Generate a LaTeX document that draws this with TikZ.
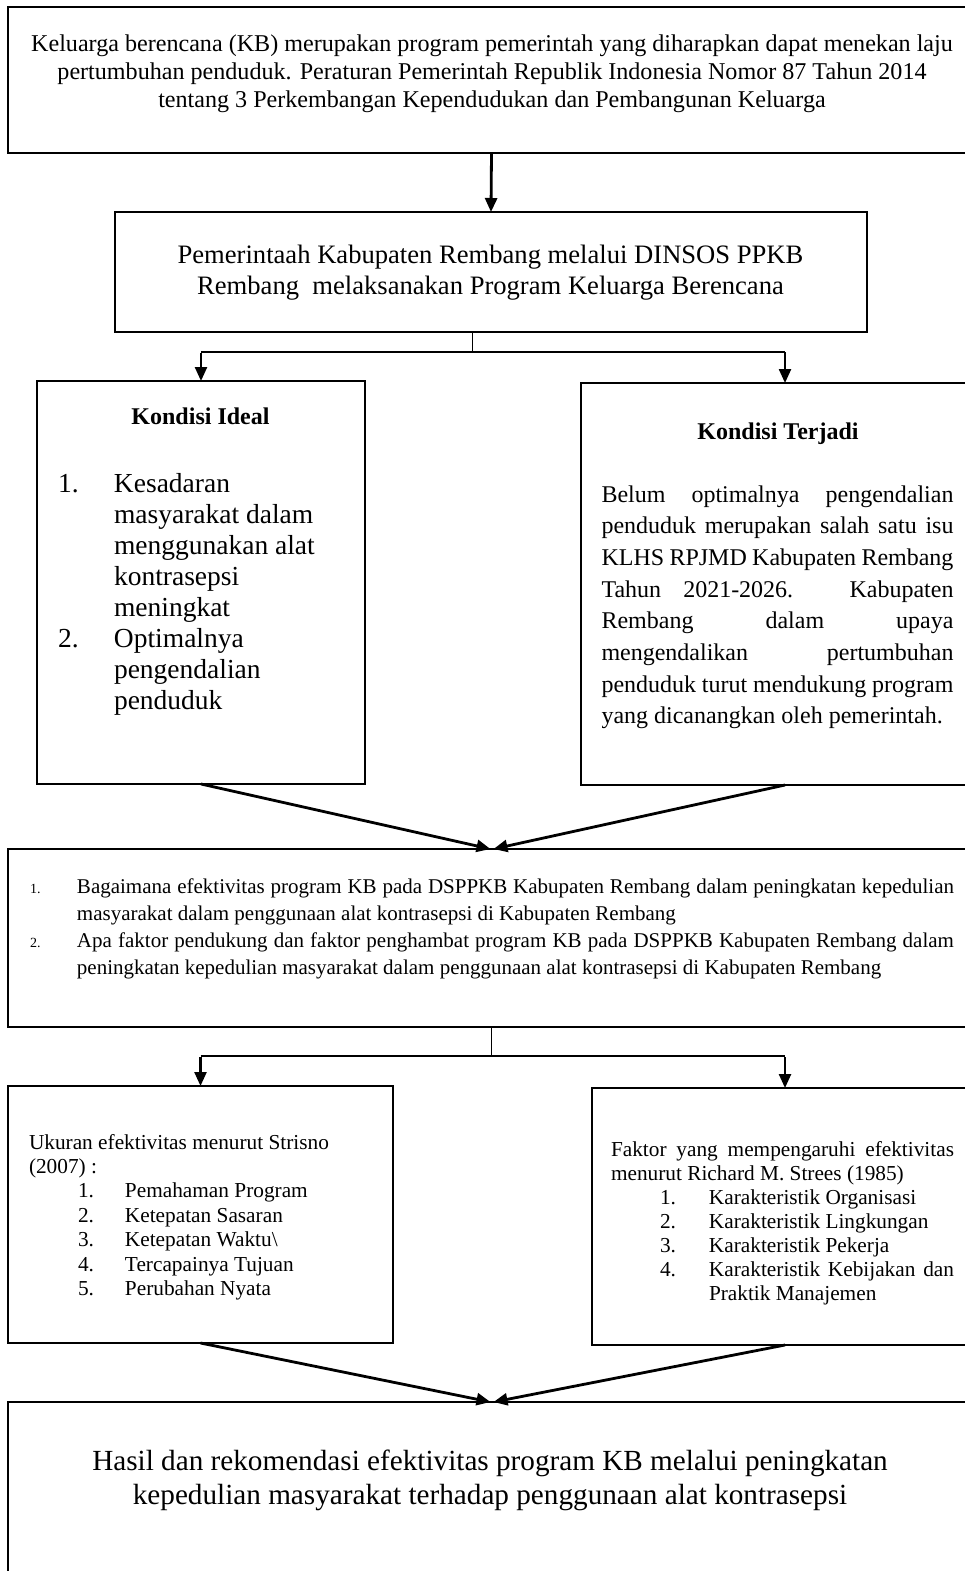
\documentclass[tikz,border=0pt]{standalone}
\usepackage{fontspec}
\setmainfont{Liberation Serif}
\usetikzlibrary{arrows.meta}
\newcommand\fsz[2]{\fontsize{#1}{#2}\selectfont}
\begin{document}
\begin{tikzpicture}[x=1pt,y=-1pt,
  boxn/.style={draw=black, line width=1.6pt, inner sep=0pt, outer sep=0pt, anchor=north west},
  tx/.style={inner sep=0pt, outer sep=0pt},
  conn/.style={line width=2.4pt, -{Triangle[length=14pt,width=12pt]}},
  thinline/.style={line width=1.4pt},
  barline/.style={line width=2.4pt}
]
\useasboundingbox (0,0) rectangle (965,1571);
\clip (0,0) rectangle (965,1571);
\fill[white] (0,0) rectangle (965,1571);

% boxes
\node[boxn, minimum width=967pt, minimum height=146pt] (b1) at (8,7) {};
\node[boxn, minimum width=752pt, minimum height=120pt] (b2) at (115,212) {};
\node[boxn, minimum width=328pt, minimum height=403pt] (l1) at (37,381) {};
\node[boxn, minimum width=408pt, minimum height=402pt] (r1) at (581,383) {};
\node[boxn, minimum width=967pt, minimum height=178pt] (b3) at (8,849) {};
\node[boxn, minimum width=385pt, minimum height=257pt] (l2) at (8,1086) {};
\node[boxn, minimum width=386pt, minimum height=257pt] (r2) at (592,1088) {};
\node[boxn, minimum width=967pt, minimum height=200pt] (b4) at (8,1402) {};

% texts
\node[tx, anchor=base] (t1) at (492,52) {\fsz{24.1}{27.6}\begin{tabular}[t]{@{}c@{}}
Keluarga berencana (KB) merupakan program pemerintah yang diharapkan dapat menekan laju\\
pertumbuhan penduduk. Peraturan Pemerintah Republik Indonesia Nomor 87 Tahun 2014\\
tentang 3 Perkembangan Kependudukan dan Pembangunan Keluarga\end{tabular}};

\node[tx, anchor=base] (t2) at (490.5,263) {\fsz{26.6}{31}\begin{tabular}[t]{@{}c@{}}
Pemerintaah Kabupaten Rembang melalui DINSOS PPKB\\
Rembang\ \ melaksanakan Program Keluarga Berencana\end{tabular}};

\node[tx, anchor=base] (tl1h) at (200.5,424) {\fsz{24}{28}\bfseries Kondisi Ideal};
\node[tx, anchor=base west] (tl1) at (58,492) {\fsz{27.5}{31}\begin{tabular}[t]{@{}p{56pt}@{}l@{}}
1. & Kesadaran\\
 & masyarakat dalam\\
 & menggunakan alat\\
 & kontrasepsi\\
 & meningkat\\
2. & Optimalnya\\
 & pengendalian\\
 & penduduk\end{tabular}};

\node[tx, anchor=base] (tr1h) at (778,439) {\fsz{24}{28}\bfseries Kondisi Terjadi};
\node[tx, anchor=base west] (tr1) at (601.5,502) {\fsz{24}{31.7}\begin{tabular}[t]{@{}l@{}}
\makebox[352pt][s]{Belum optimalnya pengendalian}\\
\makebox[352pt][s]{penduduk merupakan salah satu isu}\\
\makebox[352pt][s]{KLHS RPJMD Kabupaten Rembang}\\
\makebox[352pt][s]{Tahun 2021-2026. Kabupaten}\\
\makebox[352pt][s]{Rembang dalam upaya}\\
\makebox[352pt][s]{mengendalikan pertumbuhan}\\
\makebox[352pt][s]{penduduk turut mendukung program}\\
yang dicanangkan oleh pemerintah.\end{tabular}};

\node[tx, anchor=base west] (t3) at (30,893) {\fsz{21}{27.3}\begin{tabular}[t]{@{}p{47pt}@{}l@{}}
{\fsz{14}{16}1.} & \makebox[877pt][s]{Bagaimana efektivitas program KB pada DSPPKB Kabupaten Rembang dalam peningkatan kepedulian}\\
 & masyarakat dalam penggunaan alat kontrasepsi di Kabupaten Rembang\\
{\fsz{14}{16}2.} & \makebox[877pt][s]{Apa faktor pendukung dan faktor penghambat program KB pada DSPPKB Kabupaten Rembang dalam}\\
 & peningkatan kepedulian masyarakat dalam penggunaan alat kontrasepsi di Kabupaten Rembang\end{tabular}};

\node[tx, anchor=base west] (tl2) at (29,1149) {\fsz{21.3}{24.4}\begin{tabular}[t]{@{}p{49pt}@{}p{47pt}@{}l@{}}
\multicolumn{3}{@{}l@{}}{Ukuran efektivitas menurut Strisno}\\
\multicolumn{3}{@{}l@{}}{(2007) :}\\
 & 1. & Pemahaman Program\\
 & 2. & Ketepatan Sasaran\\
 & 3. & Ketepatan Waktu\textbackslash\\
 & 4. & Tercapainya Tujuan\\
 & 5. & Perubahan Nyata\end{tabular}};

\node[tx, anchor=base west] (tr2) at (611,1156) {\fsz{21.3}{24}\begin{tabular}[t]{@{}p{49pt}@{}p{49pt}@{}l@{}}
\multicolumn{3}{@{}l@{}}{\makebox[343pt][s]{Faktor yang mempengaruhi efektivitas}}\\
\multicolumn{3}{@{}l@{}}{menurut Richard M. Strees (1985)}\\
 & 1. & Karakteristik Organisasi\\
 & 2. & Karakteristik Lingkungan\\
 & 3. & Karakteristik Pekerja\\
 & 4. & \makebox[245pt][s]{Karakteristik Kebijakan dan}\\
 & & Praktik Manajemen\end{tabular}};

\node[tx, anchor=base] (t4) at (490,1470) {\fsz{29.2}{34}\begin{tabular}[t]{@{}c@{}}
Hasil dan rekomendasi efektivitas program KB melalui peningkatan\\
kepedulian masyarakat terhadap penggunaan alat kontrasepsi\end{tabular}};

% connectors
\draw[conn, line width=2.8pt] (b1.south) -- (b2.north);

\coordinate (s1) at (472,352);
\coordinate (r1a) at (785,352);
\draw[line width=1pt] (b2.south -| s1) -- (s1);
\draw[barline] (s1 -| l1.north) -- (r1a);
\draw[conn] ([yshift=-1.2pt]s1 -| l1.north) -- (l1.north);
\draw[conn] (r1a) -- (r1.north);

\draw[conn, line width=2.8pt] (l1.south) -- ([xshift=-1pt]b3.north);
\draw[conn, line width=2.8pt] (r1.south) -- ([xshift=2pt]b3.north);

\coordinate (s2) at (491.5,1056);
\draw[thinline] (b3.south) -- (s2);
\draw[barline] (s2 -| l2.north) -- (s2 -| r2.north);
\draw[conn] ([yshift=-1.2pt]s2 -| l2.north) -- (l2.north);
\draw[conn] ([yshift=-1.2pt]s2 -| r2.north) -- (r2.north);

\draw[conn, line width=2.8pt] (l2.south) -- ([xshift=-1pt]b4.north);
\draw[conn, line width=2.8pt] (r2.south) -- ([xshift=2pt]b4.north);
\end{tikzpicture}
\end{document}
